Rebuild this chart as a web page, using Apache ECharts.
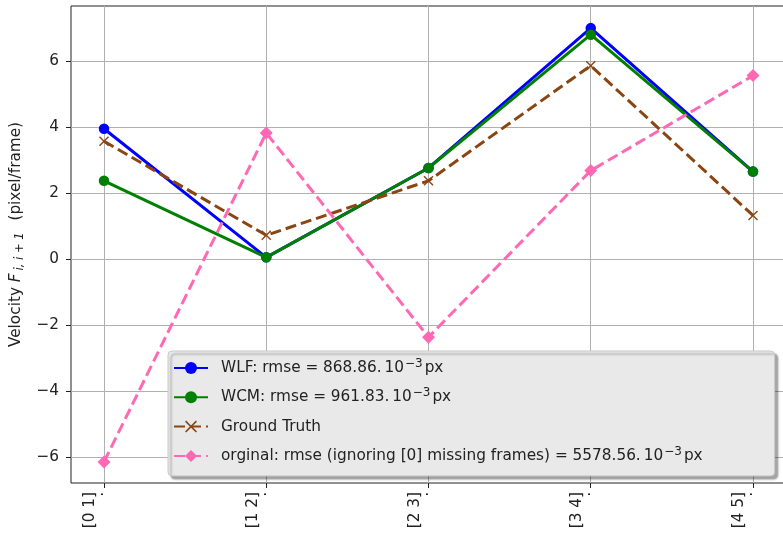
<!DOCTYPE html>
<html><head><meta charset="utf-8">
<script src="https://cdn.jsdelivr.net/npm/echarts@6/dist/echarts.min.js"></script>
<style>html,body{margin:0;padding:0;background:#fff}#c{width:783px;height:541px}</style>
</head><body><div id="c"></div>
<script>
const categories = ['[0 1]', '[1 2]', '[2 3]', '[3 4]', '[4 5]'];
const wlf = [3.95, 0.05, 2.76, 7.00, 2.65];
const wcm = [2.37, 0.05, 2.76, 6.80, 2.65];
const groundTruth = [3.57, 0.72, 2.37, 5.86, 1.32];
const orginal = [-6.15, 3.82, -2.37, 2.68, 5.56];
const yTicks = [-6, -4, -2, 0, 2, 4, 6];
const names = [
  'WLF: rmse = 868.86.10⁻³px',
  'WCM: rmse = 961.83.10⁻³px',
  'Ground Truth',
  'orginal: rmse (ignoring [0] missing frames) = 5578.56.10⁻³px'
];

const FONT = 'DejaVu Sans';
const FS = 15.3;
const xIdx = categories.map((c, i) => i);
const pairs = arr => arr.map((v, i) => [xIdx[i], v]);
const X_PATH = 'path://M0,1L1,0L5,4L9,0L10,1L6,5L10,9L9,10L5,6L1,10L0,9L4,5Z';

const chart = echarts.init(document.getElementById('c'), null, {renderer: 'canvas'});
chart.setOption({
  animation: false,
  backgroundColor: '#ffffff',
  textStyle: {fontFamily: FONT},
  grid: {left: 71, right: -3, top: 6, bottom: 58, outerBoundsMode: 'none', containLabel: false,
    show: true, borderColor: '#222', borderWidth: 1, backgroundColor: 'transparent'},
  xAxis: {
    type: 'value', min: -0.2034, max: 4.2034,
    axisLine: {show: false, onZero: false},
    axisTick: {show: true, customValues: xIdx, length: 5, lineStyle: {color: '#222', width: 1}},
    splitLine: {show: true, lineStyle: {color: '#b0b0b0', width: 1}},
    axisLabel: {
      customValues: xIdx, rotate: 90, margin: 9, fontSize: FS, color: '#222', fontFamily: FONT,
      formatter: v => categories[Math.round(v)] + '\n.',
      lineHeight: 9, verticalAlign: 'bottom'
    }
  },
  yAxis: {
    type: 'value', min: -6.79, max: 7.67,
    name: 'Velocity {i|F}{s|i, i + 1} (pixel/frame)',
    nameLocation: 'middle', nameRotate: 90, nameGap: 40,
    nameTextStyle: {fontSize: FS, color: '#222', fontFamily: FONT, padding: [0, 0, 0, 20],
      rich: {i: {fontSize: FS, fontStyle: 'italic', fontFamily: FONT, color: '#222'},
             s: {fontSize: 11.5, fontStyle: 'italic', fontFamily: FONT, color: '#222', verticalAlign: 'bottom', padding: [7, 7, 0, 3]}}},
    axisLine: {show: false, onZero: false},
    axisTick: {show: true, customValues: yTicks, length: 5, lineStyle: {color: '#222', width: 1}},
    splitLine: {show: true, lineStyle: {color: '#b0b0b0', width: 1}},
    axisLabel: {customValues: yTicks, margin: 12, fontSize: FS, color: '#222', fontFamily: FONT,
      formatter: v => (v < 0 ? '\u2212' + Math.abs(v) : String(v))}
  },
  legend: {
    orient: 'vertical', left: 168, top: 351,
    padding: [7, 72, 10, 5], itemGap: 9.3, itemWidth: 34, itemHeight: 15,
    backgroundColor: '#e9e9e9', borderColor: '#c8c8c8', borderWidth: 1, borderRadius: 4,
    shadowColor: 'rgba(0,0,0,0.35)', shadowOffsetX: 3, shadowOffsetY: 3, shadowBlur: 2,
    formatter: n => n.replace('.10⁻³', '.{g|10}{sup|\u22123}'),
    textStyle: {fontSize: FS, color: '#222', fontFamily: FONT, padding: [0, 0, 0, 8], lineHeight: 20,
      rich: {
        g: {fontSize: FS, color: '#222', fontFamily: FONT, lineHeight: 20, padding: [0, 0, 0, 3]},
        sup: {fontSize: 12, color: '#222', fontFamily: FONT, lineHeight: 8, verticalAlign: 'top', padding: [0, 2, 0, 1]}
      }},
    data: names
  },
  series: [
    {name: names[0], type: 'line', data: pairs(wlf), symbol: 'circle', symbolSize: 10.5,
      lineStyle: {color: '#0000ff', width: 3}, itemStyle: {color: '#0000ff'}},
    {name: names[1], type: 'line', data: pairs(wcm), symbol: 'circle', symbolSize: 10.5,
      lineStyle: {color: '#008000', width: 3}, itemStyle: {color: '#008000'}},
    {name: names[2], type: 'line', data: pairs(groundTruth), symbol: X_PATH, symbolSize: 10,
      lineStyle: {color: '#8b4513', width: 3, type: [11, 5]}, itemStyle: {color: '#8b4513'}},
    {name: names[3], type: 'line', data: pairs(orginal), symbol: 'diamond', symbolSize: 13,
      lineStyle: {color: '#ff69b4', width: 3, type: [11, 5]}, itemStyle: {color: '#ff69b4'}}
  ]
});
</script></body></html>
